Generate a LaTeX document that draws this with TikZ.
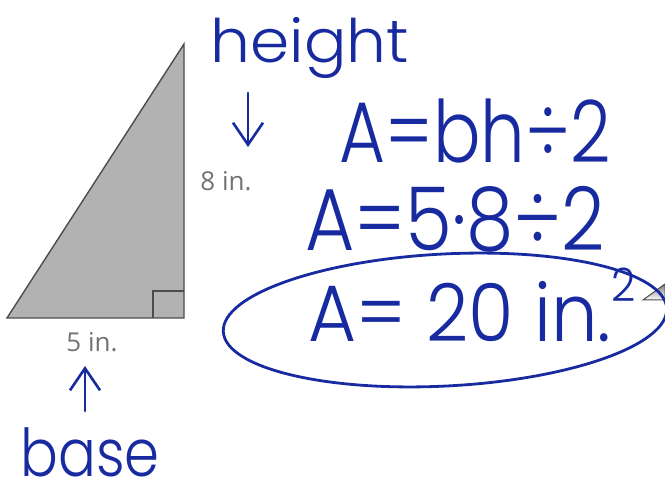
\documentclass[tikz,border=0pt]{standalone}
\usepackage{fontspec}
\setmainfont{Poppins}[UprightFont=* Light]
\newfontfamily\printfont{Open Sans}
\usetikzlibrary{arrows.meta}
\definecolor{inkblue}{RGB}{24,42,160}
\definecolor{shade}{RGB}{178,178,178}
\begin{document}
\begin{tikzpicture}[x=1pt,y=-1pt,
tri/.style={draw=black!70, fill=shade, line width=1.4pt, line join=miter},
penline/.style={draw=inkblue, line width=2.8pt, line cap=round},
penarrow/.style={penline, -{Straight Barb[length=22pt, width=30pt, line width=2.6pt]}},
hand/.style={text=inkblue, inner sep=0pt, anchor=base},
printed/.style={text=black!55, inner sep=0pt, font=\printfont\fontsize{26}{30}\selectfont}
]
    \useasboundingbox (0,0) rectangle (665,489);

    % the triangle
    \coordinate (bl) at (7,318);
    \coordinate (br) at (184,318);
    \coordinate (tp) at (184,44);
    \draw [tri] (bl) -- (br) -- (tp) -- cycle;
    \draw [black!70, line width=1.4pt] (153,318) |- (184,291);

    % piece of the next figure
    \fill [shade, draw=black!70, line width=1pt] (643,300) -- (665,300) -- (665,284) -- cycle;

    \node [printed] (side) at (226,181) {8 in.};
    \node [printed] (bottom) at (92,342) {5 in.};

    % handwriting
    \node [hand, font=\fontsize{60}{64}\selectfont, xscale=1.05] (height) at (310,63) {height};
    \node [hand, font=\fontsize{86}{90}\selectfont, xscale=0.82] (rule) at (475,163) {A=bh÷2};
    \node [hand, font=\fontsize{88}{90}\selectfont, xscale=0.86] (fill) at (455,251) {A=5·8÷2};
    \node [hand, font=\fontsize{80}{84}\selectfont, xscale=0.92] (result) at (472,342) {A= 20 in.\raisebox{40pt}{\fontsize{46}{50}\selectfont 2}};
    \node [hand, font=\fontsize{66}{70}\selectfont, xscale=0.85] (base) at (90,476) {base};

    \coordinate (h1) at (248,93);
    \coordinate (h2) at (248,147);
    \coordinate (b1) at (85,411);
    \coordinate (b2) at (85,366);
    \draw [penarrow] (h1) -- (h2);
    \draw [penarrow] (b1) -- (b2);

    \draw [penline] (445,320) ellipse [x radius=222, y radius=66, rotate=3];
\end{tikzpicture}
\end{document}
